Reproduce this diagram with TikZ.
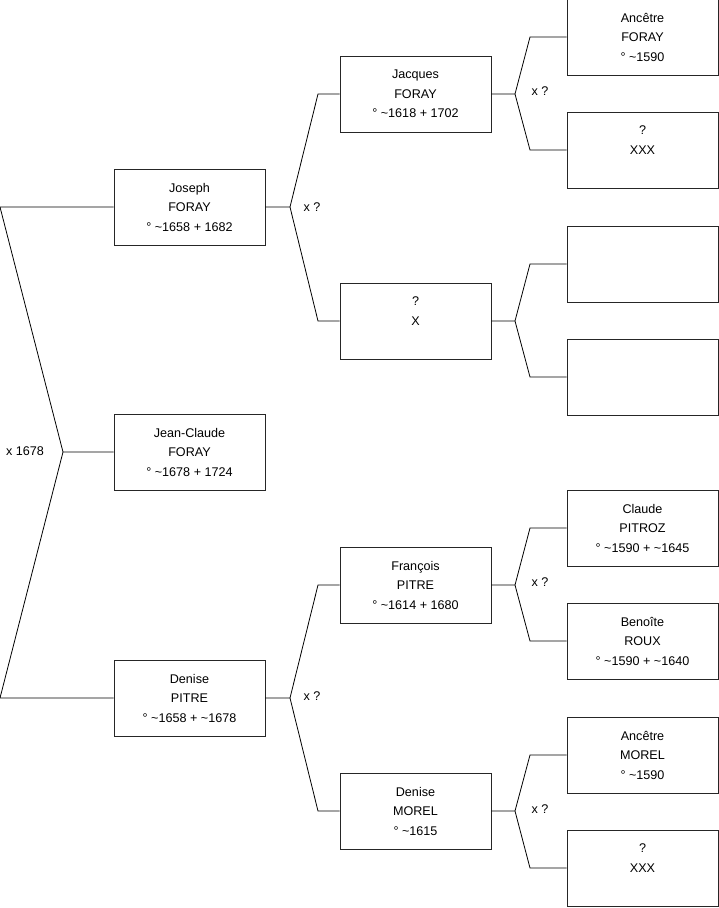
\documentclass[tikz,border=0pt]{standalone}
\usepackage{fontspec}
\setmainfont{Liberation Sans}
\usetikzlibrary{positioning}

\begin{document}
\begin{tikzpicture}[x=1pt, y=-1pt,
  person/.style={rectangle, draw=black!85, line width=0.8pt, minimum width=151pt,
    minimum height=76pt, inner sep=2pt, align=center, font=\fontsize{12.6}{19.5}\selectfont},
  link/.style={draw=black, line width=0.8pt, line join=miter},
  union/.style={inner sep=0pt, font=\fontsize{12.6}{14}\selectfont}]

  \useasboundingbox (0,0) rectangle (719,908);

  % generation 1
  \node[person] (joseph) at (189.5,207) {Joseph\\FORAY\\° \textasciitilde1658 + 1682};
  \node[person] (jeanclaude) at (189.5,452) {Jean-Claude\\FORAY\\° \textasciitilde1678 + 1724};
  \node[person] (denise) at (189.5,698) {Denise\\PITRE\\° \textasciitilde1658 + \textasciitilde1678};

  % generation 2
  \node[person] (jacques) at (415.5,94) {Jacques\\FORAY\\° \textasciitilde1618 + 1702};
  \node[person] (inconnu) at (415.5,321) {?\\X\\\mbox{}};
  \node[person] (francois) at (415.5,585) {François\\PITRE\\° \textasciitilde1614 + 1680};
  \node[person] (denisem) at (415.5,811) {Denise\\MOREL\\° \textasciitilde1615};

  % generation 3
  \node[person] (ancforay) at (642.5,37) {Ancêtre\\FORAY\\° \textasciitilde1590};
  \node[person] (xxxa) at (642.5,150) {?\\XXX\\\mbox{}};
  \node[person] (videa) at (642.5,264) {};
  \node[person] (videb) at (642.5,377) {};
  \node[person] (claude) at (642.5,528) {Claude\\PITROZ\\° \textasciitilde1590 + \textasciitilde1645};
  \node[person] (benoite) at (642.5,641) {Benoîte\\ROUX\\° \textasciitilde1590 + \textasciitilde1640};
  \node[person] (ancmorel) at (642.5,755) {Ancêtre\\MOREL\\° \textasciitilde1590};
  \node[person] (xxxb) at (642.5,868) {?\\XXX\\\mbox{}};

  % fork points
  \coordinate (fjc) at (63,452);
  \coordinate (fjcup) at (0,207);
  \coordinate (fjcdown) at (0,698);
  \coordinate (fjo) at (290,207);
  \coordinate (fde) at (290,698);
  \coordinate (fja) at (515,94);
  \coordinate (fin) at (515,321);
  \coordinate (ffr) at (515,585);
  \coordinate (fdm) at (515,811);

  % unions
  \node[union] (u1) at (25,451) {x 1678};
  \node[union] (u2) at (312,207) {x ?};
  \node[union] (u3) at (312,696) {x ?};
  \node[union] (u4) at (540,91) {x ?};
  \node[union] (u5) at (540,582) {x ?};
  \node[union] (u6) at (540,809) {x ?};

  % links
  \draw[link] (jeanclaude.west) -- (fjc) -- (fjcup) -- (joseph.west);
  \draw[link] (fjc) -- (fjcdown) -- (denise.west);

  \draw[link] (joseph.east) -- (fjo) -- (318,94) -- (jacques.west);
  \draw[link] (fjo) -- (318,321) -- (inconnu.west);
  \draw[link] (denise.east) -- (fde) -- (318,585) -- (francois.west);
  \draw[link] (fde) -- (318,811) -- (denisem.west);

  \draw[link] (jacques.east) -- (fja) -- (530,37) -- (ancforay.west);
  \draw[link] (fja) -- (530,150) -- (xxxa.west);
  \draw[link] (inconnu.east) -- (fin) -- (530,264) -- (videa.west);
  \draw[link] (fin) -- (530,377) -- (videb.west);
  \draw[link] (francois.east) -- (ffr) -- (530,528) -- (claude.west);
  \draw[link] (ffr) -- (530,641) -- (benoite.west);
  \draw[link] (denisem.east) -- (fdm) -- (530,755) -- (ancmorel.west);
  \draw[link] (fdm) -- (530,868) -- (xxxb.west);
\end{tikzpicture}
\end{document}
